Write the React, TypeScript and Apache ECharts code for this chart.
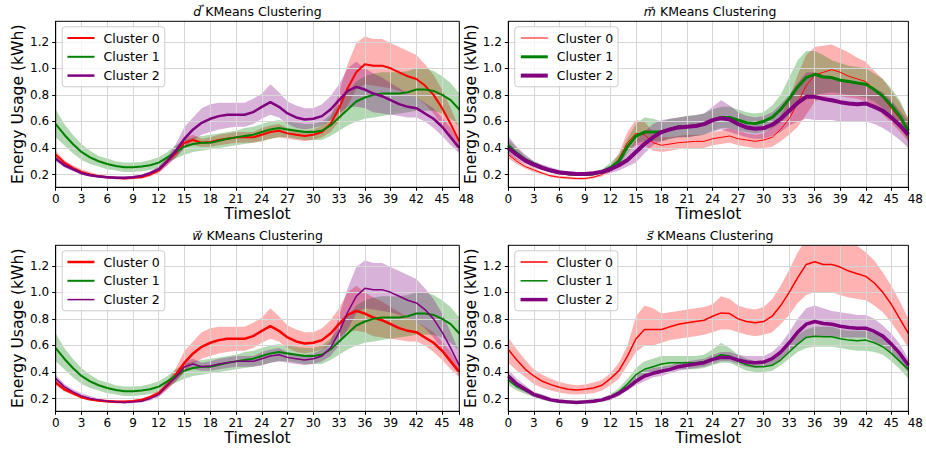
import React, { useEffect, useRef } from 'react';
import * as echarts from 'echarts';

// ---------- data ----------
const timeslots = Array.from({ length: 48 }, (_, i) => String(i));
const yTickValues = [0.2, 0.4, 0.6, 0.8, 1.0, 1.2];
const xLastLabel = '48';

// d panel
const dRedMean = [0.35,0.29,0.25,0.22,0.20,0.19,0.18,0.175,0.17,0.175,0.18,0.20,0.23,0.30,0.36,0.44,0.46,0.44,0.445,0.46,0.47,0.48,0.48,0.48,0.50,0.52,0.53,0.51,0.50,0.49,0.50,0.52,0.58,0.70,0.85,0.97,1.03,1.02,1.02,1.00,0.97,0.94,0.92,0.87,0.80,0.70,0.58,0.45];
const dRedLo = [0.32,0.27,0.23,0.21,0.19,0.18,0.17,0.165,0.16,0.165,0.17,0.185,0.21,0.27,0.33,0.40,0.42,0.41,0.41,0.42,0.43,0.44,0.44,0.44,0.45,0.47,0.48,0.47,0.46,0.45,0.46,0.48,0.52,0.60,0.72,0.84,0.88,0.87,0.86,0.85,0.83,0.81,0.78,0.73,0.66,0.57,0.47,0.37];
const dRedHi = [0.38,0.31,0.27,0.24,0.22,0.20,0.19,0.185,0.18,0.185,0.19,0.215,0.25,0.33,0.40,0.48,0.50,0.47,0.48,0.50,0.51,0.52,0.52,0.52,0.55,0.57,0.58,0.55,0.54,0.53,0.54,0.57,0.63,0.82,1.03,1.19,1.24,1.22,1.22,1.19,1.16,1.13,1.10,1.03,0.95,0.84,0.70,0.55];
const dGreenMean = [0.58,0.50,0.43,0.37,0.33,0.30,0.28,0.265,0.255,0.255,0.26,0.27,0.29,0.33,0.37,0.41,0.43,0.44,0.44,0.455,0.47,0.48,0.49,0.50,0.52,0.54,0.55,0.54,0.53,0.52,0.52,0.53,0.57,0.63,0.69,0.75,0.78,0.80,0.81,0.81,0.81,0.82,0.84,0.84,0.83,0.80,0.76,0.69];
const dGreenLo = [0.48,0.42,0.36,0.31,0.28,0.26,0.24,0.23,0.22,0.22,0.225,0.235,0.25,0.29,0.32,0.35,0.37,0.38,0.39,0.40,0.41,0.42,0.43,0.44,0.45,0.47,0.48,0.48,0.47,0.46,0.46,0.46,0.49,0.53,0.57,0.60,0.62,0.63,0.64,0.65,0.66,0.67,0.68,0.68,0.68,0.66,0.62,0.56];
const dGreenHi = [0.69,0.58,0.50,0.43,0.38,0.34,0.32,0.30,0.29,0.29,0.295,0.31,0.33,0.37,0.42,0.46,0.48,0.49,0.50,0.51,0.52,0.53,0.55,0.56,0.58,0.60,0.61,0.60,0.59,0.58,0.58,0.60,0.65,0.73,0.82,0.90,0.94,0.96,0.97,0.97,0.97,0.98,1.00,1.00,0.98,0.94,0.89,0.81];
const dPurpleMean = [0.32,0.27,0.24,0.21,0.195,0.185,0.18,0.175,0.175,0.18,0.19,0.21,0.24,0.30,0.38,0.47,0.54,0.59,0.62,0.64,0.65,0.65,0.65,0.67,0.71,0.745,0.71,0.66,0.63,0.615,0.62,0.64,0.69,0.76,0.83,0.86,0.84,0.81,0.79,0.76,0.73,0.71,0.70,0.66,0.62,0.56,0.48,0.40];
const dPurpleLo = [0.30,0.255,0.225,0.20,0.185,0.175,0.17,0.165,0.165,0.17,0.18,0.195,0.22,0.27,0.33,0.40,0.46,0.50,0.52,0.54,0.55,0.56,0.56,0.58,0.62,0.65,0.63,0.58,0.55,0.54,0.55,0.57,0.61,0.66,0.71,0.71,0.70,0.67,0.66,0.65,0.64,0.63,0.63,0.60,0.55,0.49,0.42,0.36];
const dPurpleHi = [0.34,0.285,0.255,0.225,0.205,0.195,0.19,0.185,0.185,0.19,0.20,0.225,0.26,0.33,0.43,0.56,0.63,0.70,0.73,0.74,0.74,0.74,0.74,0.77,0.81,0.88,0.82,0.75,0.72,0.70,0.70,0.73,0.79,0.88,1.00,1.05,1.00,0.96,0.93,0.89,0.85,0.81,0.78,0.74,0.70,0.63,0.55,0.45];

// m panel
const mRedMean = [0.35,0.30,0.26,0.235,0.21,0.19,0.18,0.175,0.17,0.17,0.18,0.20,0.24,0.32,0.44,0.51,0.50,0.44,0.42,0.43,0.44,0.445,0.45,0.45,0.47,0.48,0.49,0.47,0.46,0.45,0.46,0.48,0.54,0.62,0.74,0.87,0.95,0.97,0.99,0.97,0.94,0.92,0.90,0.84,0.78,0.70,0.62,0.53];
const mRedLo = [0.32,0.28,0.245,0.22,0.20,0.18,0.17,0.165,0.16,0.16,0.17,0.185,0.22,0.28,0.38,0.42,0.42,0.38,0.37,0.38,0.39,0.40,0.40,0.40,0.42,0.43,0.44,0.42,0.41,0.40,0.40,0.41,0.45,0.50,0.56,0.65,0.75,0.78,0.80,0.79,0.78,0.77,0.75,0.71,0.65,0.59,0.52,0.45];
const mRedHi = [0.38,0.32,0.275,0.25,0.22,0.20,0.19,0.185,0.18,0.18,0.19,0.215,0.26,0.36,0.52,0.61,0.60,0.52,0.48,0.48,0.49,0.50,0.50,0.50,0.52,0.53,0.55,0.53,0.51,0.50,0.51,0.56,0.64,0.77,0.95,1.10,1.16,1.17,1.18,1.15,1.12,1.08,1.05,0.98,0.92,0.83,0.74,0.62];
const mGreenMean = [0.42,0.36,0.31,0.28,0.25,0.23,0.215,0.205,0.20,0.20,0.205,0.22,0.25,0.30,0.41,0.49,0.52,0.52,0.52,0.54,0.56,0.56,0.57,0.58,0.61,0.63,0.63,0.61,0.59,0.585,0.60,0.63,0.69,0.77,0.86,0.93,0.955,0.935,0.93,0.91,0.90,0.89,0.88,0.84,0.79,0.72,0.64,0.53];
const mGreenLo = [0.38,0.33,0.29,0.26,0.235,0.215,0.205,0.195,0.19,0.19,0.195,0.205,0.22,0.27,0.36,0.44,0.45,0.45,0.45,0.47,0.48,0.48,0.49,0.50,0.53,0.55,0.55,0.53,0.52,0.51,0.52,0.55,0.59,0.65,0.72,0.78,0.80,0.81,0.82,0.81,0.80,0.79,0.78,0.75,0.70,0.63,0.55,0.46];
const mGreenHi = [0.47,0.40,0.34,0.30,0.27,0.245,0.23,0.22,0.21,0.21,0.22,0.235,0.29,0.35,0.47,0.58,0.63,0.62,0.60,0.62,0.63,0.64,0.65,0.66,0.69,0.71,0.71,0.69,0.67,0.66,0.67,0.72,0.80,0.93,1.06,1.13,1.13,1.10,1.06,1.04,1.02,1.01,1.00,0.96,0.92,0.85,0.76,0.62];
const mPurpleMean = [0.40,0.35,0.305,0.275,0.25,0.23,0.215,0.21,0.205,0.205,0.21,0.22,0.24,0.27,0.31,0.37,0.43,0.48,0.52,0.54,0.555,0.56,0.565,0.58,0.61,0.625,0.615,0.58,0.555,0.545,0.55,0.575,0.62,0.68,0.74,0.785,0.785,0.77,0.76,0.745,0.735,0.73,0.735,0.71,0.68,0.63,0.57,0.50];
const mPurpleLo = [0.35,0.31,0.28,0.25,0.23,0.215,0.20,0.195,0.19,0.19,0.195,0.205,0.21,0.23,0.26,0.29,0.36,0.42,0.45,0.47,0.48,0.48,0.49,0.50,0.52,0.54,0.52,0.50,0.48,0.47,0.47,0.49,0.52,0.57,0.60,0.62,0.61,0.61,0.61,0.60,0.60,0.60,0.60,0.58,0.55,0.51,0.46,0.40];
const mPurpleHi = [0.49,0.41,0.35,0.30,0.275,0.255,0.235,0.225,0.22,0.22,0.225,0.24,0.27,0.31,0.37,0.46,0.52,0.58,0.61,0.62,0.63,0.64,0.645,0.66,0.71,0.76,0.72,0.67,0.64,0.63,0.64,0.67,0.73,0.80,0.89,0.97,0.97,0.95,0.94,0.92,0.90,0.89,0.88,0.85,0.82,0.76,0.68,0.60];

// s panel
const sRedMean = [0.57,0.49,0.42,0.37,0.33,0.305,0.285,0.27,0.265,0.27,0.28,0.30,0.35,0.41,0.52,0.65,0.72,0.72,0.72,0.74,0.76,0.77,0.78,0.79,0.82,0.845,0.84,0.80,0.78,0.77,0.78,0.82,0.90,1.00,1.11,1.21,1.23,1.21,1.21,1.19,1.16,1.14,1.12,1.07,1.00,0.91,0.80,0.69];
const sRedLo = [0.47,0.41,0.36,0.31,0.28,0.26,0.245,0.235,0.23,0.235,0.24,0.26,0.30,0.35,0.45,0.55,0.60,0.60,0.62,0.64,0.65,0.66,0.67,0.68,0.70,0.72,0.72,0.70,0.68,0.67,0.68,0.70,0.76,0.83,0.92,0.98,1.00,1.00,1.00,0.98,0.96,0.95,0.94,0.90,0.85,0.77,0.68,0.58];
const sRedHi = [0.66,0.57,0.49,0.42,0.38,0.35,0.325,0.31,0.30,0.305,0.32,0.34,0.39,0.47,0.60,0.82,0.90,0.88,0.84,0.85,0.86,0.87,0.88,0.89,0.91,0.97,0.95,0.90,0.88,0.87,0.89,0.95,1.05,1.17,1.30,1.40,1.45,1.43,1.40,1.39,1.38,1.35,1.30,1.24,1.15,1.05,0.93,0.80];
const sGreenMean = [0.34,0.29,0.26,0.23,0.21,0.19,0.18,0.175,0.17,0.175,0.18,0.19,0.21,0.25,0.31,0.38,0.42,0.44,0.46,0.47,0.47,0.47,0.47,0.48,0.50,0.53,0.52,0.48,0.455,0.44,0.44,0.45,0.49,0.55,0.61,0.66,0.67,0.665,0.665,0.65,0.64,0.635,0.64,0.62,0.59,0.54,0.48,0.42];
const sGreenLo = [0.30,0.26,0.235,0.21,0.19,0.175,0.165,0.16,0.16,0.16,0.165,0.175,0.19,0.22,0.27,0.33,0.37,0.39,0.40,0.41,0.42,0.42,0.42,0.43,0.45,0.47,0.47,0.44,0.41,0.40,0.40,0.41,0.45,0.50,0.55,0.58,0.59,0.59,0.59,0.58,0.57,0.56,0.56,0.55,0.53,0.48,0.42,0.35];
const sGreenHi = [0.38,0.32,0.285,0.25,0.23,0.205,0.195,0.19,0.185,0.19,0.195,0.205,0.23,0.28,0.35,0.43,0.48,0.50,0.52,0.52,0.52,0.52,0.52,0.53,0.57,0.62,0.58,0.53,0.50,0.48,0.48,0.50,0.54,0.61,0.68,0.72,0.74,0.74,0.74,0.72,0.71,0.71,0.71,0.69,0.66,0.61,0.55,0.47];
const sPurpleMean = [0.37,0.31,0.27,0.23,0.21,0.19,0.18,0.175,0.17,0.175,0.18,0.19,0.21,0.24,0.28,0.33,0.37,0.39,0.405,0.42,0.44,0.45,0.46,0.47,0.495,0.51,0.51,0.49,0.475,0.47,0.475,0.50,0.55,0.62,0.70,0.76,0.78,0.765,0.76,0.745,0.735,0.73,0.73,0.705,0.67,0.61,0.54,0.45];
const sPurpleLo = [0.33,0.28,0.245,0.215,0.195,0.18,0.17,0.165,0.16,0.165,0.17,0.18,0.19,0.22,0.26,0.30,0.33,0.36,0.37,0.39,0.41,0.42,0.43,0.44,0.46,0.48,0.48,0.46,0.44,0.43,0.44,0.45,0.49,0.55,0.61,0.66,0.67,0.67,0.67,0.66,0.66,0.66,0.66,0.63,0.60,0.54,0.47,0.40];
const sPurpleHi = [0.42,0.35,0.30,0.25,0.23,0.205,0.195,0.185,0.18,0.185,0.19,0.205,0.23,0.26,0.30,0.37,0.41,0.43,0.44,0.45,0.47,0.48,0.49,0.50,0.53,0.55,0.55,0.53,0.52,0.52,0.52,0.55,0.61,0.70,0.80,0.88,0.90,0.88,0.86,0.85,0.84,0.83,0.83,0.80,0.75,0.69,0.61,0.50];

// ---------- styles / layout ----------
const FONT = 'DejaVu Sans';
const RED = '#ff0000';
const GREEN = '#008000';
const PURPLE = '#800080';
const GRID_W = 403.6;
const GRID_H = 166;
const Y_MIN = 0.104;
const Y_MAX = 1.354;

type Cluster = { label: string; color: string; width: number; mean: number[]; lo: number[]; hi: number[] };
type Panel = { key: string; letter: string; left: number; top: number; titleTop: number; clusters: Cluster[] };

const panels: Panel[] = [
  {
    key: 'd', letter: 'd', left: 55.7, top: 21.3, titleTop: 5,
    clusters: [
      { label: 'Cluster 0', color: RED, width: 2, mean: dRedMean, lo: dRedLo, hi: dRedHi },
      { label: 'Cluster 1', color: GREEN, width: 2, mean: dGreenMean, lo: dGreenLo, hi: dGreenHi },
      { label: 'Cluster 2', color: PURPLE, width: 2.5, mean: dPurpleMean, lo: dPurpleLo, hi: dPurpleHi },
    ],
  },
  {
    key: 'm', letter: 'm', left: 508.3, top: 21.3, titleTop: 5,
    clusters: [
      { label: 'Cluster 0', color: RED, width: 1, mean: mRedMean, lo: mRedLo, hi: mRedHi },
      { label: 'Cluster 1', color: GREEN, width: 3, mean: mGreenMean, lo: mGreenLo, hi: mGreenHi },
      { label: 'Cluster 2', color: PURPLE, width: 4, mean: mPurpleMean, lo: mPurpleLo, hi: mPurpleHi },
    ],
  },
  {
    key: 'w', letter: 'w', left: 55.7, top: 245.3, titleTop: 229,
    clusters: [
      { label: 'Cluster 0', color: RED, width: 2.5, mean: dPurpleMean, lo: dPurpleLo, hi: dPurpleHi },
      { label: 'Cluster 1', color: GREEN, width: 2, mean: dGreenMean, lo: dGreenLo, hi: dGreenHi },
      { label: 'Cluster 2', color: PURPLE, width: 1.5, mean: dRedMean, lo: dRedLo, hi: dRedHi },
    ],
  },
  {
    key: 's', letter: 's', left: 508.3, top: 245.3, titleTop: 229,
    clusters: [
      { label: 'Cluster 0', color: RED, width: 1.5, mean: sRedMean, lo: sRedLo, hi: sRedHi },
      { label: 'Cluster 1', color: GREEN, width: 1.5, mean: sGreenMean, lo: sGreenLo, hi: sGreenHi },
      { label: 'Cluster 2', color: PURPLE, width: 3.5, mean: sPurpleMean, lo: sPurpleLo, hi: sPurpleHi },
    ],
  },
];

const showTick = (idx: number) => idx % 3 === 0 || idx === timeslots.length - 1;

function buildOption() {
  const grid: any[] = [];
  const xAxis: any[] = [];
  const yAxis: any[] = [];
  const title: any[] = [];
  const legend: any[] = [];
  const bandSeries: any[] = [];
  const lineSeries: any[] = [];

  panels.forEach((p, gi) => {
    grid.push({
      left: p.left, top: p.top, width: GRID_W, height: GRID_H,
      show: true, borderColor: '#000', borderWidth: 1, backgroundColor: 'transparent', z: 5,
    });
    xAxis.push({
      type: 'category', gridIndex: gi, data: timeslots, boundaryGap: false, z: 2,
      name: 'Timeslot', nameLocation: 'middle', nameGap: 17,
      nameTextStyle: { fontFamily: FONT, fontSize: 15.6, color: '#000' },
      axisLine: { show: true, lineStyle: { color: '#000', width: 1 } },
      axisTick: { show: true, interval: (i: number) => showTick(i), length: 3.5, lineStyle: { color: '#000' } },
      axisLabel: {
        interval: (i: number) => showTick(i), margin: 6,
        fontFamily: FONT, fontSize: 12, color: '#000',
        formatter: (v: string, i: number) => (i === timeslots.length - 1 ? `{last|${xLastLabel}}` : v),
        rich: { last: { fontFamily: FONT, fontSize: 12, color: '#000', padding: [0, 0, 0, 14] } },
      },
      splitLine: { show: true, interval: (i: number) => showTick(i), lineStyle: { color: '#d6d6d6', width: 1 } },
    });
    yAxis.push({
      type: 'value', gridIndex: gi, min: Y_MIN, max: Y_MAX, z: 2,
      name: 'Energy Usage (kWh)', nameLocation: 'middle', nameGap: 28,
      nameTextStyle: { fontFamily: FONT, fontSize: 15.6, color: '#000' },
      axisLine: { show: true, lineStyle: { color: '#000', width: 1 } },
      axisTick: { show: true, length: 3.5, customValues: yTickValues, lineStyle: { color: '#000' } },
      axisLabel: {
        customValues: yTickValues, margin: 6.5,
        fontFamily: FONT, fontSize: 12, color: '#000',
        formatter: (v: number) => v.toFixed(1),
      },
      splitLine: { show: true, lineStyle: { color: '#d6d6d6', width: 1 } },
    });
    title.push({
      text: `{v|${p.letter}\u20D7} KMeans Clustering`,
      left: p.left + GRID_W / 2, top: p.titleTop, textAlign: 'center', padding: 0,
      textStyle: {
        fontFamily: FONT, fontSize: 12.5, fontWeight: 'normal', color: '#000',
        rich: { v: { fontFamily: FONT, fontSize: 12.5, fontStyle: 'italic', color: '#000' } },
      },
    });
    legend.push({
      orient: 'vertical', left: p.left + 6.5, top: p.top + 5.5,
      padding: [3.7, 5, 3.7, 4], itemGap: 3.8, itemWidth: 27, itemHeight: 10,
      backgroundColor: 'rgba(255,255,255,0.8)', borderColor: '#cccccc', borderWidth: 1, borderRadius: 3,
      selectedMode: false, z: 6,
      formatter: (n: string) => n.split('|')[1],
      textStyle: { fontFamily: FONT, fontSize: 12.5, color: '#000', lineHeight: 15, padding: [0, 0, 0, 4] },
      data: p.clusters.map((c) => ({
        name: `${p.key}|${c.label}`,
        lineStyle: { width: c.width, color: c.color },
        itemStyle: { opacity: 0, color: 'transparent', borderWidth: 0 },
      })),
    });

    p.clusters.forEach((c, ci) => {
      const stack = `${p.key}-band-${ci}`;
      bandSeries.push({
        type: 'line', name: `${p.key}|lo${ci}`, xAxisIndex: gi, yAxisIndex: gi,
        data: c.lo, stack, symbol: 'none', silent: true, z: 1,
        lineStyle: { opacity: 0, width: 0 },
      });
      bandSeries.push({
        type: 'line', name: `${p.key}|band${ci}`, xAxisIndex: gi, yAxisIndex: gi,
        data: c.hi.map((h, i) => +(h - c.lo[i]).toFixed(4)), stack, symbol: 'none', silent: true, z: 1,
        lineStyle: { opacity: 0, width: 0 },
        areaStyle: { color: c.color, opacity: 0.3 },
      });
      lineSeries.push({
        type: 'line', name: `${p.key}|${c.label}`, xAxisIndex: gi, yAxisIndex: gi,
        data: c.mean, symbol: 'none', showSymbol: false, z: 3,
        lineStyle: { color: c.color, width: c.width },
        itemStyle: { color: c.color },
      });
    });
  });

  return {
    animation: false,
    backgroundColor: '#ffffff',
    textStyle: { fontFamily: FONT },
    title, legend, grid, xAxis, yAxis,
    series: [...bandSeries, ...lineSeries],
  };
}

export default function App() {
  const ref = useRef<HTMLDivElement>(null);
  useEffect(() => {
    if (!ref.current) return;
    const chart = echarts.init(ref.current, undefined, { renderer: 'svg' });
    chart.setOption(buildOption() as any);
    return () => chart.dispose();
  }, []);
  return (
    <div
      ref={ref}
      style={{ position: 'fixed', left: 0, top: 0, width: 926, height: 449, background: '#fff' }}
    />
  );
}
